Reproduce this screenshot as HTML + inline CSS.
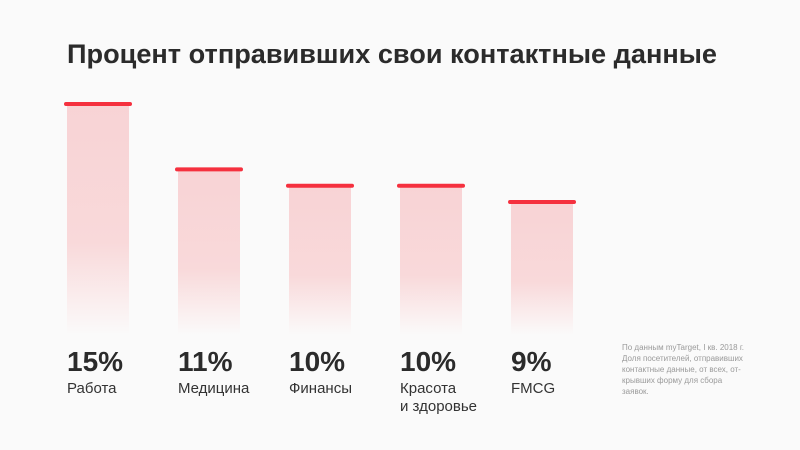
<!DOCTYPE html>
<html><head><meta charset="utf-8"><style>
html,body{margin:0;padding:0;background:#fafafa;}
svg{display:block;font-family:"Liberation Sans","DejaVu Sans",sans-serif;}
</style></head><body>
<svg width="800" height="450" viewBox="0 0 800 450">
<defs>
<linearGradient id="fade" x1="0" y1="0" x2="0" y2="1">
<stop offset="0" stop-color="#f8d3d5"/>
<stop offset="0.6" stop-color="#f9d9da"/>
<stop offset="1" stop-color="#fafafa"/>
</linearGradient>
</defs>
<rect width="800" height="450" fill="#fafafa"/>
<text x="67" y="63" font-size="27" font-weight="bold" fill="#2b2b2b" textLength="650" lengthAdjust="spacingAndGlyphs">Процент отправивших свои контактные данные</text>
<g id="bars"></g>
<text font-size="8" fill="#9a9a9a">
<tspan x="622" y="350">По данным myTarget, I кв. 2018 г.</tspan>
<tspan x="622" y="361">Доля посетителей, отправивших</tspan>
<tspan x="622" y="372">контактные данные, от всех, от-</tspan>
<tspan x="622" y="383">крывших форму для сбора</tspan>
<tspan x="622" y="394">заявок.</tspan>
</text>
</svg>
<script>
const categories = ["Работа", "Медицина", "Финансы", "Красота|и здоровье", "FMCG"];
const values = [15, 11, 10, 10, 9];
const valueLabels = ["15%", "11%", "10%", "10%", "9%"];

const baseY = 335;
function yScale(v){ return baseY - (16.33*v - 14); }
function xScale(i){ return 67 + i*111; }
const barW = 62;
const NS = "http://www.w3.org/2000/svg";
const g = document.getElementById('bars');
values.forEach((v,i)=>{
  const x = xScale(i), y = yScale(v);
  const r = document.createElementNS(NS,'rect');
  r.setAttribute('x',x); r.setAttribute('y',y); r.setAttribute('width',barW); r.setAttribute('height',baseY-y);
  r.setAttribute('fill','url(#fade)');
  
  
  g.appendChild(r);
  const c = document.createElementNS(NS,'line');
  c.setAttribute('x1',x-1); c.setAttribute('x2',x+barW+1); c.setAttribute('y1',y); c.setAttribute('y2',y);
  c.setAttribute('stroke','#f5303e'); c.setAttribute('stroke-width','4'); c.setAttribute('stroke-linecap','round');
  
  
  g.appendChild(c);
  const t = document.createElementNS(NS,'text');
  t.setAttribute('x',x); t.setAttribute('y',371);
  t.setAttribute('font-size','28'); t.setAttribute('font-weight','bold'); t.setAttribute('fill','#2b2b2b');
  t.textContent = valueLabels[i];
  
  
  g.appendChild(t);
  categories[i].split('|').forEach((line,k)=>{
    const l = document.createElementNS(NS,'text');
    l.setAttribute('x',x); l.setAttribute('y',393+k*18);
    l.setAttribute('font-size','15'); l.setAttribute('fill','#333');
    l.textContent = line;
    
    
    g.appendChild(l);
  });
});
</script>
</body></html>
